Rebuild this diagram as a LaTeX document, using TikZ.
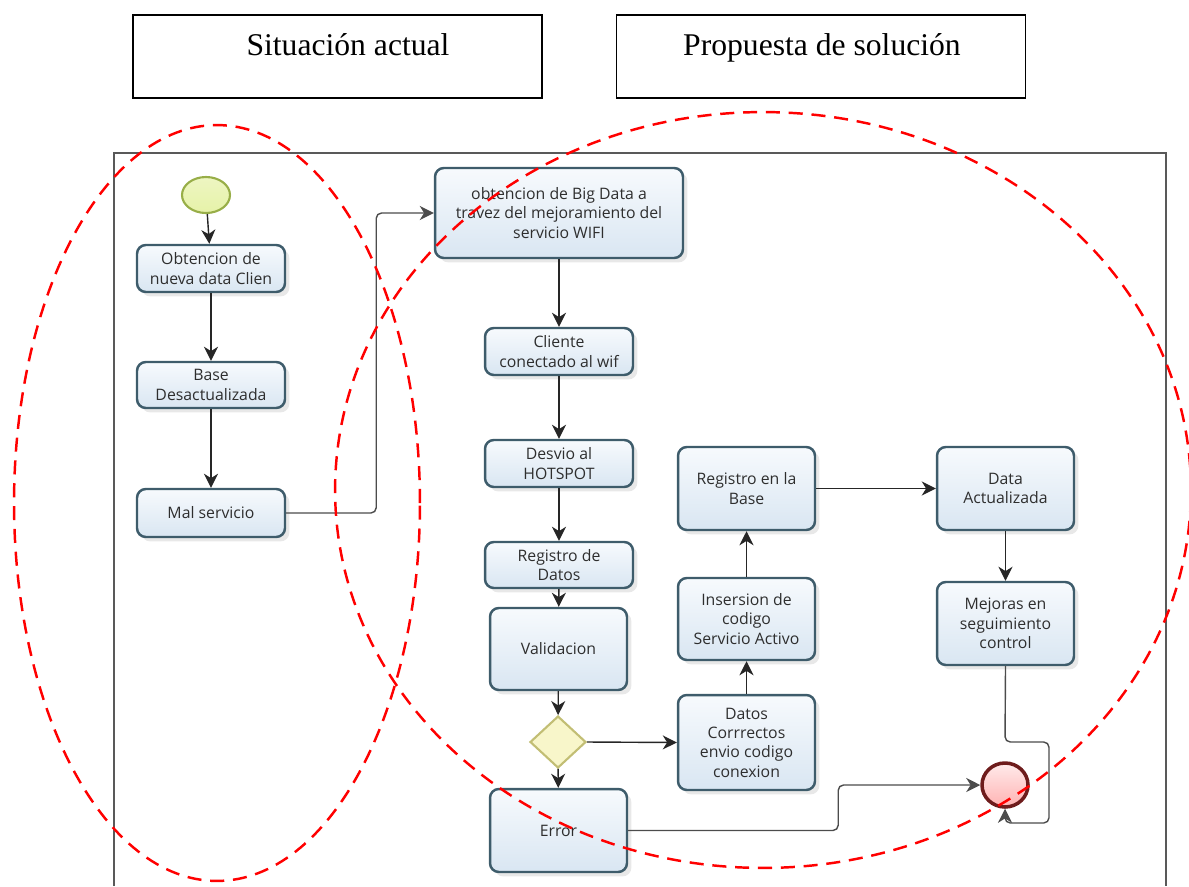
\documentclass[tikz,border=0pt]{standalone}
\usepackage{fontspec}
\setmainfont{Liberation Serif}
\newfontfamily\bpmnfont{Open Sans}
\usetikzlibrary{arrows.meta, shapes.geometric, shadows}
\definecolor{taskline}{HTML}{3E5C6B}
\definecolor{tasktop}{HTML}{F7FAFD}
\definecolor{taskbot}{HTML}{D9E6F2}
\definecolor{tasktext}{HTML}{2E2E2E}
\definecolor{startfill}{HTML}{E6F2A8}
\definecolor{startline}{HTML}{98AE48}
\definecolor{endline}{HTML}{6E1C1C}
\definecolor{gatefill}{HTML}{F8F6CA}
\definecolor{gateline}{HTML}{C2BE74}
\tikzset{task/.style={rounded corners=5pt, draw=taskline, line width=1.4pt, top color=tasktop, bottom color=taskbot, align=center, inner sep=2pt, font=\bpmnfont\fontsize{9}{11}\selectfont, text=tasktext, drop shadow={shadow xshift=2.5pt, shadow yshift=-2.5pt, opacity=0.18}}}
\tikzset{flow/.style={line width=0.8pt, black!85, -{Stealth[length=8pt, width=8pt, inset=2.5pt]}}}
\tikzset{wire/.style={line width=0.8pt, black!70, rounded corners=3pt}}
\tikzset{gate/.style={diamond, draw=gateline, line width=1.2pt, fill=gatefill, inner sep=0pt, minimum width=1.12cm, minimum height=1.04cm}}
\tikzset{startev/.style={ellipse, draw=startline, line width=1.2pt, top color=startfill!70!white, bottom color=startfill, minimum width=0.96cm, minimum height=0.72cm}}
\tikzset{endev/.style={ellipse, draw=endline, line width=2pt, top color=red!8, bottom color=red!30, minimum width=0.92cm, minimum height=0.88cm}}
\tikzset{zone/.style={red, line width=1.4pt, dash pattern=on 8pt off 5pt}}
\tikzset{header/.style={draw, line width=0.8pt, minimum width=8.18cm, minimum height=1.66cm}}

\begin{document}
\begin{tikzpicture}[x=0.02cm, y=-0.02cm]
  \useasboundingbox (0,0) rectangle (1189,886);
  % Headers
  \node[header] (hsit) at (337.5,56.5) {};
  \node[header] (hprop) at (821,56.5) {};
  \node[anchor=base, font=\fontsize{18}{20}\selectfont] (tsit) at (348,55) {Situación actual};
  \node[anchor=base, font=\fontsize{18}{20}\selectfont] (tprop) at (822,55) {Propuesta de solución};
  % Pool
  \draw[black!65, line width=1.5pt] (114,886) -- (114,153) -- (1166,153) -- (1166,886);
  % Situacion actual
  \node[startev] (start) at (206,195) {};
  \node[task, minimum width=2.96cm, minimum height=0.94cm] (ob) at (211,268.5) {Obtencion de\\nueva data Clien};
  \node[task, minimum width=2.96cm, minimum height=0.92cm] (base) at (211,385) {Base\\Desactualizada};
  \node[task, minimum width=2.96cm, minimum height=0.96cm] (mal) at (211,513) {Mal servicio};
  % Propuesta
  \node[task, minimum width=4.96cm, minimum height=1.8cm] (big) at (559,213) {obtencion de Big Data a\\travez del mejoramiento del\\servicio WIFI};
  \node[task, minimum width=2.96cm, minimum height=0.94cm] (cli) at (559,351.5) {Cliente\\conectado al wif};
  \node[task, minimum width=2.96cm, minimum height=0.94cm] (desv) at (559,463.5) {Desvio al\\HOTSPOT};
  \node[task, minimum width=2.96cm, minimum height=0.92cm] (regd) at (559,565) {Registro de\\Datos};
  \node[task, minimum width=2.74cm, minimum height=1.64cm] (val) at (558.5,649) {Validacion};
  \node[gate] (gw) at (558,742) {};
  \node[task, minimum width=2.74cm, minimum height=1.66cm] (err) at (558.5,830.5) {Error};
  \node[task, minimum width=2.74cm, minimum height=1.9cm] (datos) at (746.5,742.5) {Datos\\Corrrectos\\envio codigo\\conexion};
  \node[task, minimum width=2.74cm, minimum height=1.64cm] (ins) at (746.5,619) {Insersion de\\codigo\\Servicio Activo};
  \node[task, minimum width=2.74cm, minimum height=1.66cm] (regb) at (746.5,488.5) {Registro en la\\Base};
  \node[task, minimum width=2.74cm, minimum height=1.66cm] (dact) at (1005.5,488.5) {Data\\Actualizada};
  \node[task, minimum width=2.74cm, minimum height=1.66cm] (mej) at (1005.5,623.5) {Mejoras en\\seguimiento\\control};
  \node[endev] (end) at (1005,785) {};
  % Flujos
  \foreach \a/\b in {start/ob, ob/base, base/mal, big/cli, cli/desv, desv/regd, regd/val, val/gw, gw/err, datos/ins, ins/regb, dact/mej} {
    \draw[flow] (\a) -- (\b);
  }
  \draw[flow] (gw.east) -- (datos.west);
  \draw[flow] (regb.east) -- (dact.west);
  \draw[flow, wire] (mal.east) -- ++(90,0) |- (big.west);
  \draw[flow, wire] (err.east) -- ++(210,0) |- (end.west);
  \draw[flow, wire] (mej.south) -- (1005,742) -- (1049,742) -- (1049,823) -- (1005,823) -- (end.south);
  % Zonas
  \draw[zone] (217,503) ellipse [x radius=4.06cm, y radius=7.56cm];
  \draw[zone] (763,490) ellipse [x radius=8.56cm, y radius=7.56cm];
\end{tikzpicture}
\end{document}
